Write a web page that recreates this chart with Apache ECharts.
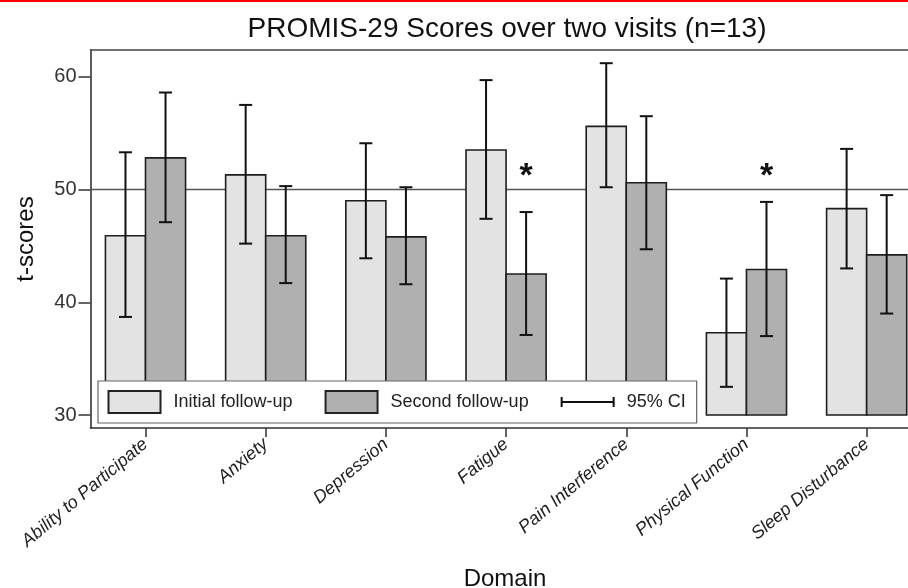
<!DOCTYPE html>
<html>
<head>
<meta charset="utf-8">
<script src="https://cdn.jsdelivr.net/npm/echarts@6/dist/echarts.min.js"></script>
<style>
html,body{margin:0;padding:0;background:#fff;}
#chart{width:908px;height:588px;position:relative;}
#topline{position:absolute;left:0;top:0;width:908px;height:2px;background:#ff0000;z-index:10;}
</style>
</head>
<body>
<div id="topline"></div>
<div id="chart"></div>
<script>
const categories = ['Ability to Participate', 'Anxiety', 'Depression', 'Fatigue', 'Pain Interference', 'Physical Function', 'Sleep Disturbance'];
const initialMean = [45.9, 51.3, 49.0, 53.5, 55.6, 37.3, 48.3];
const initialLow  = [38.7, 45.2, 43.9, 47.4, 50.2, 32.5, 43.0];
const initialHigh = [53.3, 57.5, 54.1, 59.7, 61.2, 42.1, 53.6];
const secondMean  = [52.8, 45.9, 45.8, 42.5, 50.6, 42.9, 44.2];
const secondLow   = [47.1, 41.7, 41.6, 37.1, 44.7, 37.0, 39.0];
const secondHigh  = [58.6, 50.3, 50.2, 48.0, 56.5, 48.9, 49.5];
const significant = [false, false, false, true, false, true, false];
const yTicks = [30, 40, 50, 60];
const baseValue = 30;
const referenceValue = 50;

const FONT = "'Liberation Sans', Arial, sans-serif";
const chart = echarts.init(document.getElementById('chart'), null, {renderer: 'canvas'});

function barRenderer(side, fill) {
  return function (params, api) {
    const i = api.value(0), v = api.value(1);
    const w = api.size([1, 0])[0] / 3;
    const top = api.coord([i, v]);
    const base = api.coord([i, baseValue]);
    const x = side < 0 ? top[0] - w : top[0];
    return {
      type: 'rect',
      shape: {x: x, y: top[1], width: w, height: base[1] - top[1]},
      style: {fill: fill, stroke: '#1e1e1e', lineWidth: 1.6}
    };
  };
}
function errRenderer(side) {
  return function (params, api) {
    const i = api.value(0);
    const w = api.size([1, 0])[0] / 3;
    const lo = api.coord([i, api.value(1)]);
    const hi = api.coord([i, api.value(2)]);
    const x = lo[0] + side * w / 2;
    const cap = 6.5;
    const st = {stroke: '#111', lineWidth: 2};
    return {
      type: 'group',
      children: [
        {type: 'line', shape: {x1: x, y1: lo[1], x2: x, y2: hi[1]}, style: st},
        {type: 'line', shape: {x1: x - cap, y1: lo[1], x2: x + cap, y2: lo[1]}, style: st},
        {type: 'line', shape: {x1: x - cap, y1: hi[1], x2: x + cap, y2: hi[1]}, style: st}
      ]
    };
  };
}

const catIdx = categories.map((c, i) => i);
const option = {
  animation: false,
  backgroundColor: '#fff',
  title: [
    {text: 'PROMIS-29 Scores over two visits (n=13)', left: 502, top: 10, textAlign: 'center',
     textStyle: {fontFamily: FONT, fontSize: 28, fontWeight: 'normal', color: '#111'}},
    {text: 'Domain', left: 500, top: 562, textAlign: 'center',
     textStyle: {fontFamily: FONT, fontSize: 24, fontWeight: 'normal', color: '#111'}}
  ],
  grid: {left: 90.5, top: 50, bottom: 160, right: 0, show: false, containLabel: false},
  legend: {
    left: 98, top: 381, orient: 'horizontal',
    padding: [9, 11, 9, 9.5],
    backgroundColor: '#fff', borderColor: '#666', borderWidth: 1.2,
    itemWidth: 52, itemHeight: 22, itemGap: 32,
    textStyle: {fontFamily: FONT, fontSize: 18, color: '#222', padding: [0, 0, 0, 8]},
    data: [
      {name: 'Initial follow-up', icon: 'rect', itemStyle: {color: '#e3e3e3', borderColor: '#222', borderWidth: 2}},
      {name: 'Second follow-up', icon: 'rect', itemStyle: {color: '#b0b0b0', borderColor: '#222', borderWidth: 2}},
      {name: '95% CI', icon: 'path://M0,0L0,0.01M0,6L0,16M0,11L52,11M52,6L52,16M52,21.99L52,22',
       itemStyle: {color: 'transparent', borderColor: '#111', borderWidth: 2}}
    ]
  },
  xAxis: [{
    type: 'value', min: -0.4576, max: 6.344, position: 'bottom',
    axisLine: {show: true, onZero: false, lineStyle: {color: '#333', width: 1.6}},
    splitLine: {show: false},
    axisTick: {show: true, length: 9, customValues: catIdx, lineStyle: {color: '#333', width: 1.5}},
    axisLabel: {show: true, customValues: catIdx, formatter: v => categories[Math.round(v)],
      rotate: 40, margin: 14, fontFamily: FONT, fontSize: 18, fontStyle: 'italic', color: '#222'}
  }, {
    type: 'value', min: -0.4576, max: 6.344, position: 'top',
    axisLine: {show: true, onZero: false, lineStyle: {color: '#444', width: 1.6}},
    splitLine: {show: false}, axisTick: {show: false}, axisLabel: {show: false}
  }],
  yAxis: {
    type: 'value', min: 28.85, max: 62.37,
    name: 't-scores', nameLocation: 'middle', nameGap: 52,
    nameTextStyle: {fontFamily: FONT, fontSize: 24, color: '#111'},
    axisLine: {show: true, onZero: false, lineStyle: {color: '#333', width: 1.6}},
    splitLine: {show: false},
    axisTick: {show: true, length: 12, customValues: yTicks, lineStyle: {color: '#333', width: 1.5}},
    axisLabel: {show: true, customValues: yTicks, margin: 14, fontFamily: FONT, fontSize: 20, color: '#333'}
  },
  series: [
    {type: 'custom', name: 'ref', z: 1, silent: true, encode: {x: 0, y: 1},
     renderItem: function (params, api) {
       const cs = params.coordSys;
       const y = api.coord([0, api.value(1)])[1];
       return {type: 'line', shape: {x1: cs.x, y1: y, x2: cs.x + cs.width, y2: y},
         style: {stroke: '#555', lineWidth: 1.5}};
     },
     data: [[0, referenceValue]]},
    {type: 'custom', name: 'Initial follow-up', z: 2, renderItem: barRenderer(-1, '#e3e3e3'),
     itemStyle: {color: '#e3e3e3'}, encode: {x: 0, y: 1},
     data: initialMean.map((v, i) => [i, v])},
    {type: 'custom', name: 'Second follow-up', z: 2, renderItem: barRenderer(1, '#b0b0b0'),
     itemStyle: {color: '#b0b0b0'}, encode: {x: 0, y: 1},
     data: secondMean.map((v, i) => [i, v])},
    {type: 'custom', name: '95% CI', z: 3, renderItem: errRenderer(-1),
     itemStyle: {color: '#111'}, encode: {x: 0, y: [1, 2]},
     data: initialMean.map((v, i) => [i, initialLow[i], initialHigh[i]])},
    {type: 'custom', name: '95% CI', z: 3, renderItem: errRenderer(1),
     itemStyle: {color: '#111'}, encode: {x: 0, y: [1, 2]},
     data: secondMean.map((v, i) => [i, secondLow[i], secondHigh[i]])},
    {type: 'custom', name: 'sig', z: 4, silent: true,
     renderItem: function (params, api) {
       const i = api.value(0);
       const w = api.size([1, 0])[0] / 3;
       const p = api.coord([i, 51.1]);
       return {type: 'text', x: p[0] + w / 2, y: p[1],
         style: {text: '*', font: 'bold 34px ' + FONT, fill: '#111', align: 'center', verticalAlign: 'middle'}};
     },
     data: significant.map((s, i) => s ? [i] : null).filter(d => d)}
  ]
};
chart.setOption(option);
</script>
</body>
</html>
